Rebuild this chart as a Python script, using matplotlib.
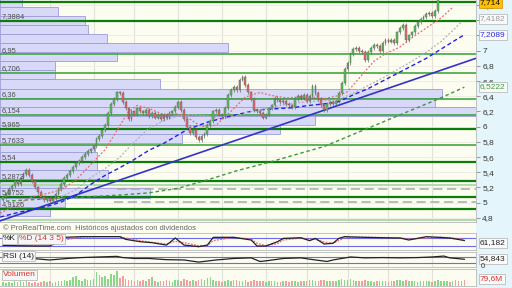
import matplotlib
matplotlib.use('Agg')
import matplotlib.pyplot as plt
from matplotlib.patches import Rectangle
import numpy as np

plt.rcParams['font.family'] = ['Liberation Sans', 'DejaVu Sans']

# daily closes (last ones sit above the visible price range)
close = [5.08, 5.12, 5.18, 5.22, 5.28, 5.25, 5.33, 5.38, 5.43, 5.36,
         5.28, 5.20, 5.14, 5.08, 5.03, 5.06, 5.02, 5.05, 5.12, 5.18,
         5.25, 5.32, 5.36, 5.42, 5.47, 5.52, 5.55, 5.60, 5.64, 5.68,
         5.70, 5.74, 5.84, 5.88, 5.95, 6.02, 6.18, 6.30, 6.36, 6.45,
         6.44, 6.32, 6.24, 6.10, 6.20, 6.16, 6.24, 6.20, 6.18, 6.22,
         6.14, 6.18, 6.12, 6.16, 6.10, 6.15, 6.12, 6.18, 6.20, 6.26,
         6.32, 6.22, 6.10, 6.00, 5.92, 5.96, 5.86, 5.82, 5.88, 5.90,
         6.02, 6.08, 6.20, 6.22, 6.16, 6.14, 6.25, 6.42, 6.48, 6.52,
         6.48, 6.62, 6.66, 6.55, 6.45, 6.36, 6.22, 6.20, 6.18, 6.12,
         6.16, 6.24, 6.28, 6.38, 6.35, 6.32, 6.34, 6.30, 6.28, 6.26,
         6.36, 6.40, 6.38, 6.42, 6.34, 6.40, 6.54, 6.44, 6.36, 6.28,
         6.22, 6.30, 6.32, 6.30, 6.34, 6.44, 6.58, 6.76, 6.84, 6.96,
         7.02, 7.04, 7.00, 6.98, 6.88, 6.98, 7.04, 7.08, 7.06, 7.00,
         7.10, 7.14, 7.12, 7.14, 7.10, 7.24, 7.30, 7.34, 7.14, 7.20,
         7.24, 7.32, 7.38, 7.42, 7.44, 7.48, 7.50, 7.46, 7.52, 7.70,
         7.72, 7.76, 7.79, 7.74, 7.77, 7.81, 7.78, 7.74, 7.714]
first_open = 5.04

volume = [22, 18, 25, 20, 28, 24, 30, 26, 35, 22,
          20, 26, 18, 24, 30, 22, 28, 20, 25, 32,
          28, 35, 30, 40, 55, 60, 38, 30, 42, 35,
          40, 45, 85, 70, 55, 60, 45, 75, 65, 90,
          50, 60, 45, 35, 40, 30, 38, 28, 35, 30,
          45, 55, 30, 25, 32, 28, 35, 30, 25, 40,
          35, 30, 42, 38, 30, 35, 28, 40, 45, 38,
          50, 55, 35, 30, 28, 25, 32, 38, 30, 35,
          40, 30, 28, 35, 25, 30, 38, 32, 28, 30,
          25, 30, 28, 32, 25, 22, 28, 30, 25, 28,
          30, 25, 28, 32, 28, 35, 40, 30, 32, 38,
          35, 30, 28, 30, 32, 38, 45, 40, 35, 42,
          35, 30, 28, 32, 40, 30, 28, 25, 30, 28,
          32, 30, 25, 28, 30, 35, 40, 32, 38, 30,
          28, 30, 25, 28, 30, 32, 28, 25, 30, 35,
          30, 28, 32, 25, 30, 38, 30, 28, 40]

# moving averages
ma_red_idx = [-1, 5, 10, 15, 20, 25, 30, 35, 39, 43, 46, 50, 55, 60, 64, 68, 73, 78, 83, 88,
              92, 97, 102, 106, 110, 114, 118, 122, 127, 131, 136, 140, 145, 150, 154]
ma_red = [4.86, 4.98, 5.08, 5.12, 5.17, 5.30, 5.50, 5.70, 5.95, 6.20, 6.28, 6.24, 6.16, 6.17,
          6.10, 6.00, 6.02, 6.20, 6.39, 6.45, 6.41, 6.38, 6.39, 6.39, 6.37, 6.40, 6.46, 6.64,
          6.86, 6.96, 7.05, 7.17, 7.30, 7.43, 7.57]
ma_gray_idx = [15, 20, 25, 30, 35, 40, 45, 50, 55, 60, 65, 70, 75, 80, 85, 90, 95, 100, 105,
               110, 115, 120, 125, 130, 135, 140, 145, 150, 155, 157]
ma_gray = [5.02, 5.08, 5.17, 5.33, 5.45, 5.60, 5.80, 5.98, 6.08, 6.14, 6.16, 6.14, 6.10, 6.14,
           6.20, 6.24, 6.28, 6.31, 6.33, 6.34, 6.36, 6.44, 6.54, 6.64, 6.75, 6.86, 6.98, 7.12,
           7.30, 7.38]
ma_blue_idx = [-1, 5, 10, 15, 20, 25, 30, 35, 40, 45, 50, 55, 63, 70, 77, 87, 99, 105, 110,
               115, 120, 125, 130, 135, 140, 145, 150, 155, 158]
ma_blue = [4.81, 4.87, 4.91, 4.95, 5.01, 5.10, 5.24, 5.36, 5.46, 5.57, 5.69, 5.78, 5.96, 6.06,
           6.13, 6.22, 6.25, 6.28, 6.30, 6.33, 6.42, 6.50, 6.60, 6.70, 6.80, 6.90, 7.02, 7.14, 7.21]
ma_green_idx = [1, 10, 20, 30, 40, 50, 60, 70, 80, 90, 100, 110, 120, 130, 140, 150, 158]
ma_green = [5.02, 5.04, 5.06, 5.08, 5.10, 5.13, 5.19, 5.30, 5.42, 5.52, 5.63, 5.74, 5.90,
            6.06, 6.22, 6.38, 6.52]

trend_idx = [-1.03, 162]
trend_val = [4.76, 6.90]

level_prices = [7.645, 7.3884, 6.95, 6.706, 6.36, 6.154, 5.965, 5.7633, 5.54, 5.2873,
                5.228, 5.0752, 4.9126, 4.772]
level_kind = ['d', 'd', 'm', 'm', 'm', 'm', 'd', 'm', 'd', 'd', 'l', 'd', 'd', 'l']
labelled_levels = [7.3884, 6.95, 6.706, 6.36, 6.154, 5.965, 5.7633, 5.54, 5.2873, 5.0752, 4.9126]
gray_levels = [5.18, 5.013]
gray_level_start = [39, 38]

# volume profile, top bin first
profile_top, profile_step = 7.697, 0.1195
profile_vol = [22, 58, 85, 88, 107, 228, 117, 55, 55, 160, 442, 435, 478, 315, 280, 182,
               95, 97, 97, 108, 65, 150, 65, 50]

stoch_idx = [0, 5, 10, 16, 18, 21, 27, 33, 40, 42, 47, 51, 56, 59, 62, 67, 70, 72, 79, 85,
             87, 90, 94, 96, 102, 105, 107, 110, 113, 115, 117, 124, 130, 136, 139, 145,
             150, 153, 158]
stoch_k = [25, 22, 20, 20, 45, 85, 90, 90, 90, 70, 52, 45, 27, 80, 27, 15, 27, 85, 85, 65,
           20, 20, 52, 77, 82, 60, 77, 35, 40, 77, 90, 85, 82, 80, 65, 90, 84, 80, 61.182]
stoch_d = [25, 23, 21, 20, 35, 65, 88, 90, 90, 80, 60, 48, 35, 55, 45, 22, 22, 60, 85, 72,
           40, 22, 38, 65, 80, 70, 70, 50, 40, 60, 82, 86, 84, 81, 72, 80, 86, 82, 70]
rsi_idx = [0, 5, 10, 16, 22, 27, 33, 39, 41, 45, 50, 56, 62, 67, 73, 79, 85, 88, 90, 96,
           102, 107, 111, 113, 119, 124, 130, 136, 142, 147, 151, 153, 158]
rsi_val = [55, 58, 60, 50, 60, 66, 70, 74, 66, 60, 60, 52, 50, 36, 50, 60, 64, 40, 44, 60,
           64, 50, 40, 50, 70, 64, 66, 64, 66, 70, 76, 64, 54.843]

month_idx = [16, 31, 45, 60, 75, 90, 104, 118, 132, 147]

W, H = 512, 288
XMIN, XMAX = -1.03, 162
BG = '#fcfcf0'


def box(x0, y0, x1, y1):
    return [x0 / W, 1 - y1 / H, (x1 - x0) / W, (y1 - y0) / H]


def fmt(v):
    return ('%g' % v).replace('.', ',')


fig = plt.figure(figsize=(5.12, 2.88), dpi=100)
fig.patch.set_facecolor(BG)
fig.patches.append(Rectangle((476 / W, 0), 36 / W, 1, transform=fig.transFigure,
                             facecolor='#e4f5fb', edgecolor='none', zorder=-1))


def style_panel(a):
    a.set_facecolor(BG)
    a.set_xlim(XMIN, XMAX)
    a.set_xticks([])
    for s in a.spines.values():
        s.set_color('#b8b8b8')
        s.set_linewidth(0.6)
    a.spines['left'].set_visible(False)
    for m in month_idx:
        a.axvline(m, color='#e2e2da', lw=0.8, zorder=0.5)


# ---- price panel
ax = fig.add_axes(box(0, 0, 476, 222))
style_panel(ax)
ax.spines['top'].set_visible(False)
ax.set_ylim(4.746, 7.667)
ticks = np.round(np.arange(4.8, 7.61, 0.2), 1)
ax.yaxis.tick_right()
ax.set_yticks(ticks)
# 7,4 and 7,2 sit under the value boxes on the reference
ax.set_yticklabels(['' if t in (7.2, 7.4) else fmt(t) for t in ticks])
ax.tick_params(axis='y', length=3, width=0.6, color='#888', labelsize=6, labelcolor='#333', pad=1.5)
for t in ticks:
    ax.axhline(t, color='#ececE4', lw=0.6, zorder=0.6)

# volume profile
centers = [profile_top - (k + 0.5) * profile_step for k in range(len(profile_vol))]
px = (XMAX - XMIN) / 476
ax.barh(centers, [v * px for v in profile_vol], height=profile_step, left=XMIN,
        color='#d8d8f8', edgecolor='#9c9cda', linewidth=0.6, zorder=1.5)

kind_style = {'d': ('#0b7d0b', 1.6), 'm': ('#33a033', 1.1), 'l': ('#a8d8a8', 1.3)}
for p, k in zip(level_prices, level_kind):
    c, lw = kind_style[k]
    ax.axhline(p, color=c, lw=lw, zorder=2.5)
for p in labelled_levels:
    ax.text(XMIN + 0.6, p + 0.012, fmt(p), fontsize=5.4, color='#505050', va='bottom', zorder=6)
for p, s in zip(gray_levels, gray_level_start):
    ax.plot([s, XMAX], [p, p], color='#a8a8a8', lw=1.1, ls=(0, (6, 3)), zorder=2.6)

ax.plot(trend_idx, trend_val, color='#3434c4', lw=1.2, zorder=3.2)
ax.plot(ma_green_idx, ma_green, color='#3a9a3a', lw=1.0, ls=(0, (2.5, 2)), zorder=3.3)
ax.plot(ma_blue_idx, ma_blue, color='#2222e6', lw=1.0, ls=(0, (3, 2)), zorder=3.4)
ax.plot(ma_gray_idx, ma_gray, color='#b0b0b0', lw=0.9, ls=(0, (1.5, 1.5)), zorder=3.5)
ax.plot(ma_red_idx, ma_red, color='#e86a6a', lw=0.9, ls=(0, (1.5, 1.5)), zorder=3.6)

# candles
idx = np.arange(len(close))
opens = np.array([first_open] + close[:-1])
closes = np.array(close)
up = closes >= opens
top = np.maximum(opens, closes)
bot = np.minimum(opens, closes)
ax.vlines(idx, bot - 0.025, top + 0.025, color='#6a6a6a', lw=0.5, zorder=4)
ax.bar(idx, np.maximum(top - bot, 0.006), bottom=bot, width=0.62,
       color=np.where(up, '#55c455', '#e46a6a'), edgecolor='#5a5a5a', linewidth=0.3, zorder=4.5)
ax.set_xlim(XMIN, XMAX)
ax.set_ylim(4.746, 7.667)

fig.text(3 / W, 1 - 228.5 / H, '\u00a9 ProRealTime.com  Hist\u00f3ricos ajustados con dividendos',
         fontsize=5.4, color='#666', va='center')

# ---- stochastic
ax_s = fig.add_axes(box(0, 233, 476, 250))
style_panel(ax_s)
ax_s.set_ylim(-10, 117.5)
ax_s.set_yticks([])
for lv in (80, 20):
    ax_s.axhline(lv, color='#6a6aee', lw=0.8, zorder=1)
ax_s.plot(stoch_idx, stoch_d, color='#e86a6a', lw=0.9, ls=(0, (1.5, 1)), zorder=2)
ax_s.plot(stoch_idx, stoch_k, color='#222', lw=0.9, zorder=3)

# ---- RSI
ax_r = fig.add_axes(box(0, 252, 476, 267))
style_panel(ax_r)
ax_r.set_ylim(3.3, 103)
ax_r.set_yticks([])
for lv in (70, 30):
    ax_r.axhline(lv, color='#6a6aee', lw=0.8, zorder=1)
ax_r.plot(rsi_idx, rsi_val, color='#222', lw=0.9, zorder=3)

# ---- volume
ax_v = fig.add_axes(box(0, 269, 476, 286))
style_panel(ax_v)
ax_v.set_ylim(0, 105)
ax_v.set_yticks([])
ax_v.bar(idx, volume, width=0.55, color=np.where(up, '#8ad88a', '#f0a0a0'), zorder=2)
ax_v.set_xlim(XMIN, XMAX)

# ---- panel labels
lab = dict(fontsize=6, va='center', bbox=dict(boxstyle='square,pad=0.15', fc='#f6f6f6', ec='#b0b0b0', lw=0.5))
fig.text(3 / W, 1 - 239 / H, '%K', color='#222', **lab)
fig.text(19 / W, 1 - 239 / H, '%D (14 3 5)', color='#e03030', **lab)
fig.text(3 / W, 1 - 256 / H, 'RSI (14)', color='#222', **lab)
fig.text(3 / W, 1 - 275 / H, 'Volumen', color='#e03030', **lab)

# ---- right value boxes
val = dict(fontsize=6, va='center', ha='left')
fig.text(480 / W, 1 - 3 / H, '7,714', color='#111',
         bbox=dict(boxstyle='square,pad=0.12', fc='#ffc000', ec='#d09000', lw=0.5), **val)
for y, t, c in [(19, '7,4182', '#9a9a9a'), (35, '7,2089', '#2a2ae0'), (87, '6,5222', '#3a9a3a'),
                (243, '61,182', '#222'), (259, '54,843', '#222'), (279, '79,6M', '#e03030')]:
    fig.text(480 / W, 1 - y / H, t, color=c,
             bbox=dict(boxstyle='square,pad=0.15', fc='#fafafa', ec='#b0b0b0', lw=0.5), **val)
fig.text(481 / W, 1 - 266 / H, '0', color='#333', fontsize=5.5, va='center')

fig.savefig('out.png', dpi=100, facecolor=fig.get_facecolor())
